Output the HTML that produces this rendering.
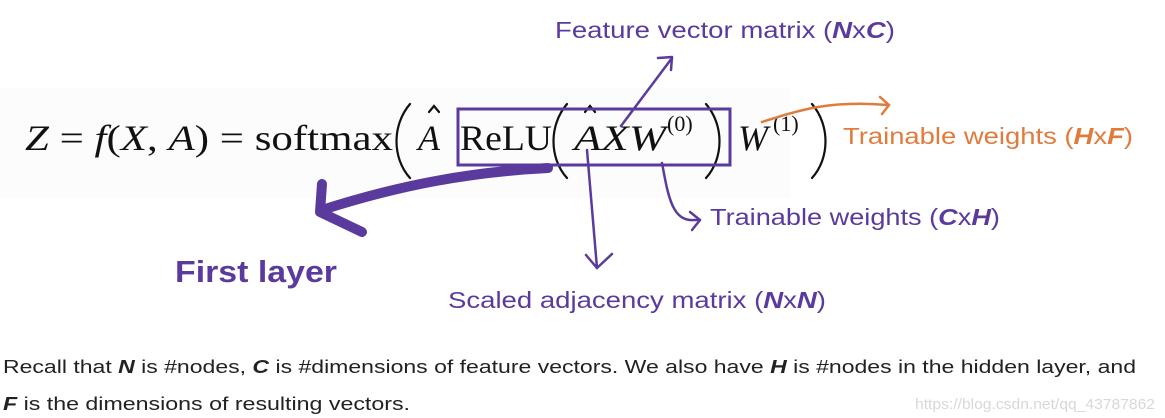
<!DOCTYPE html>
<html><head><meta charset="utf-8"><style>
html,body{margin:0;padding:0;background:#fff;}
svg{display:block}
</style></head><body>
<svg width="1165" height="418" viewBox="0 0 1165 418" xmlns="http://www.w3.org/2000/svg">
<rect x="0" y="88" width="790" height="110" fill="#fcfcfc"/>
<g font-family="Liberation Serif, serif" font-size="36" fill="#111">
<text x="25" y="150" textLength="368" lengthAdjust="spacingAndGlyphs"><tspan font-style="italic">Z</tspan> = <tspan font-style="italic">f</tspan>(<tspan font-style="italic">X</tspan>, <tspan font-style="italic">A</tspan>) = softmax</text>
<text x="418" y="150" font-style="italic">A</text>
<text x="460" y="150" textLength="92" lengthAdjust="spacingAndGlyphs">ReLU</text>
<text x="574" y="150" font-style="italic" textLength="92" lengthAdjust="spacingAndGlyphs">AXW</text>
<text x="667" y="131" font-size="22">(0)</text>
<text x="738" y="150" font-style="italic">W</text>
<text x="773" y="131" font-size="22">(1)</text>
</g>
<g fill="none" stroke="#111" stroke-width="2.2" stroke-linecap="round">
<path d="M429 112 L434 106 L439 112"/>
<path d="M585 112 L590 106 L595 112"/>
<path d="M410 104 C392 125 392 158 410 178"/>
<path d="M567 104 C549 125 549 158 567 178"/>
<path d="M706 104 C724 125 724 158 706 178"/>
<path d="M812 104 C830 125 830 158 812 178"/>
</g>
<rect x="458" y="109" width="272" height="56" fill="none" stroke="#5b3a9e" stroke-width="3"/>
<g fill="none" stroke="#5b3a9e" stroke-linecap="round" stroke-linejoin="round">
<path d="M548 168 C470 172 400 185 322 210" stroke-width="10"/>
<path d="M322 184 L320 212 L362 232" stroke-width="10"/>
<path d="M621 126 L672 58" stroke-width="2.5"/>
<path d="M658 58 L672 57 L671 70" stroke-width="2.5"/>
<path d="M587 150 L597 268" stroke-width="2.5"/>
<path d="M586 255 L597 268 L612 254" stroke-width="2.5"/>
<path d="M662 163 C668 195 672 222 694 220 L700 220" stroke-width="2.5"/>
<path d="M690 212 L700 220 L692 230" stroke-width="2.5"/>
</g>
<g fill="none" stroke="#e07b3c" stroke-width="2.5" stroke-linecap="round">
<path d="M762 122 C800 110 830 100 888 105"/>
<path d="M880 97 L889 105 L882 114"/>
</g>
<g font-family="Liberation Sans, sans-serif" font-size="23" fill="#5b3a9e">
<text x="555" y="38" textLength="340" lengthAdjust="spacingAndGlyphs">Feature vector matrix (<tspan font-weight="bold" font-style="italic">N</tspan>x<tspan font-weight="bold" font-style="italic">C</tspan>)</text>
<text x="710" y="225" textLength="290" lengthAdjust="spacingAndGlyphs">Trainable weights (<tspan font-weight="bold" font-style="italic">C</tspan>x<tspan font-weight="bold" font-style="italic">H</tspan>)</text>
<text x="448" y="308" textLength="378" lengthAdjust="spacingAndGlyphs">Scaled adjacency matrix (<tspan font-weight="bold" font-style="italic">N</tspan>x<tspan font-weight="bold" font-style="italic">N</tspan>)</text>
<text x="175" y="282" font-size="31" font-weight="bold" textLength="162" lengthAdjust="spacingAndGlyphs">First layer</text>
<text x="843" y="144" fill="#e07b3c" textLength="290" lengthAdjust="spacingAndGlyphs">Trainable weights (<tspan font-weight="bold" font-style="italic">H</tspan>x<tspan font-weight="bold" font-style="italic">F</tspan>)</text>
</g>
<g font-family="Liberation Sans, sans-serif" font-size="18" fill="#222">
<text x="3" y="373" textLength="1133" lengthAdjust="spacingAndGlyphs">Recall that <tspan font-weight="bold" font-style="italic">N</tspan> is #nodes, <tspan font-weight="bold" font-style="italic">C</tspan> is #dimensions of feature vectors. We also have <tspan font-weight="bold" font-style="italic">H</tspan> is #nodes in the hidden layer, and</text>
<text x="3" y="410" textLength="407" lengthAdjust="spacingAndGlyphs"><tspan font-weight="bold" font-style="italic">F</tspan> is the dimensions of resulting vectors.</text>
<text x="915" y="409" font-size="15" fill="#d8d8d8" textLength="240" lengthAdjust="spacingAndGlyphs">https://blog.csdn.net/qq_43787862</text>
</g>
</svg>
</body></html>
